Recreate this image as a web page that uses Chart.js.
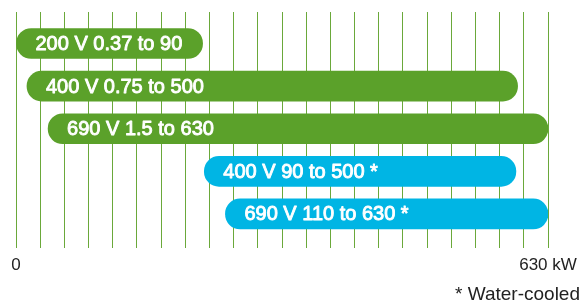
<!DOCTYPE html>
<html>
<head>
<meta charset="utf-8">
<script src="https://cdn.jsdelivr.net/npm/chart.js@4/dist/chart.umd.min.js"></script>
<style>
  html, body { margin: 0; padding: 0; background: #fff; }
  #wrap { width: 581px; height: 304px; }
</style>
</head>
<body>
<div id="wrap"><canvas id="chartFaixas"></canvas></div>
<script>
// Faixas de potência (kW)
const rotulos = ['200 V 0.37 to 90', '400 V 0.75 to 500', '690 V 1.5 to 630', '400 V 90 to 500 *', '690 V 110 to 630 *'];
const inicio = [0, 13, 38, 223, 248];
const fim = [221, 594, 630, 592, 630];
const refrigeracao = ['ar', 'ar', 'ar', 'agua', 'agua'];
const rotulosEixo = ['0', '630 kW'];
const nota = '* Water-cooled';

const MAX_KW = 630;
const DIVISOES = 22;
const VERDE = '#5ba12a';
const AZUL = '#00b5e4';

const dados = rotulos.map((r, i) => ({ x: [inicio[i], fim[i]], y: i }));

// Texto branco dentro de cada barra (regular com contorno fino, tipo "medium")
const textoBarras = {
  id: 'textoBarras',
  afterDatasetsDraw(chart) {
    const ctx = chart.ctx;
    const meta = chart.getDatasetMeta(0);
    ctx.save();
    ctx.fillStyle = '#fff';
    ctx.strokeStyle = '#fff';
    ctx.lineWidth = 0.9;
    ctx.lineJoin = 'round';
    ctx.font = '20px "Liberation Sans", Arial, sans-serif';
    ctx.textAlign = 'left';
    ctx.textBaseline = 'middle';
    meta.data.forEach((bar, i) => {
      const esquerda = Math.min(bar.base, bar.x);
      ctx.fillText(rotulos[i], esquerda + 19, bar.y + 1);
      ctx.strokeText(rotulos[i], esquerda + 19, bar.y + 1);
    });
    ctx.restore();
  }
};

new Chart(document.getElementById('chartFaixas'), {
  type: 'bar',
  data: {
    datasets: [{
      data: dados,
      backgroundColor: refrigeracao.map(t => t === 'agua' ? AZUL : VERDE),
      borderRadius: 15,
      borderSkipped: false,
      barThickness: 30
    }]
  },
  options: {
    indexAxis: 'y',
    responsive: true,
    maintainAspectRatio: false,
    animation: false,
    layout: { padding: { left: 16, right: 1, top: 12, bottom: 0 } },
    plugins: {
      legend: { display: false },
      tooltip: { enabled: false },
      title: {
        display: true,
        text: nota,
        position: 'bottom',
        align: 'end',
        color: '#222',
        font: { family: '"Liberation Sans", Arial, sans-serif', size: 19, weight: 'normal', lineHeight: 1 },
        padding: { top: 1, bottom: 0 }
      }
    },
    scales: {
      x: {
        type: 'linear',
        min: 0,
        max: MAX_KW,
        afterBuildTicks(scale) {
          const t = [];
          for (let j = 0; j <= DIVISOES; j++) t.push({ value: MAX_KW * j / DIVISOES });
          scale.ticks = t;
        },
        afterFit(scale) {
          // deixa o rótulo "630 kW" ultrapassar a área do gráfico como no original
          scale.paddingRight = 33;
        },
        grid: { color: '#6aa83a', lineWidth: 1, drawTicks: false },
        border: { display: false },
        ticks: {
          autoSkip: false,
          maxRotation: 0,
          padding: 8,
          color: '#222',
          font: { family: '"Liberation Sans", Arial, sans-serif', size: 17 },
          callback: (v, i, ticks) => i === 0 ? rotulosEixo[0] : (i === ticks.length - 1 ? rotulosEixo[1] : '')
        }
      },
      y: {
        type: 'linear',
        display: false,
        reverse: true,
        offset: false,
        grid: { offset: false },
        min: -0.74,
        max: 4.79
      }
    }
  },
  plugins: [textoBarras]
});
</script>
</body>
</html>
